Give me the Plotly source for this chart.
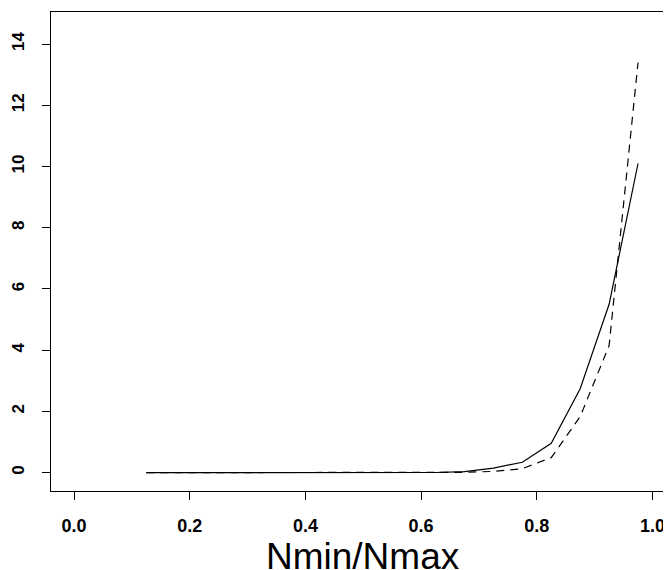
import plotly.graph_objects as go

# Data
ratio = [0.125, 0.175, 0.225, 0.275, 0.325, 0.375, 0.425, 0.475, 0.525,
         0.575, 0.625, 0.675, 0.725, 0.775, 0.825, 0.875, 0.925, 0.975]
solid_vals = [0, 0, 0, 0, 0, 0, 0, 0, 0,
              0, 0.005, 0.03, 0.15, 0.34, 0.96, 2.74, 5.5, 10.1]
dashed_vals = [0, 0, 0, 0, 0, 0, 0, 0, 0,
               0, 0, 0.01, 0.04, 0.13, 0.49, 1.83, 4.15, 13.4]
x_ticks = [0.0, 0.2, 0.4, 0.6, 0.8, 1.0]
x_ticklabels = ["0.0", "0.2", "0.4", "0.6", "0.8", "1.0"]
y_ticks = [0, 2, 4, 6, 8, 10, 12, 14]
y_ticklabels = ["0", "2", "4", "6", "8", "10", "12", "14"]
x_title = "Nmin/Nmax"

fig = go.Figure()
fig.add_trace(go.Scatter(x=ratio, y=solid_vals, mode="lines",
                         line=dict(color="black", width=1.2), showlegend=False))
fig.add_trace(go.Scatter(x=ratio, y=dashed_vals, mode="lines",
                         line=dict(color="black", width=1.2, dash="8px,6px"),
                         showlegend=False))

fig.update_xaxes(range=[-0.0398, 1.032], tickvals=x_ticks, ticktext=x_ticklabels,
                 showline=True, linecolor="black", linewidth=1, mirror=True,
                 ticks="outside", ticklen=8, tickcolor="black", tickwidth=1,
                 showgrid=False, zeroline=False, automargin=False,
                 tickfont=dict(family="Liberation Sans, Arial, sans-serif", size=18,
                               color="black", weight="bold"),
                 ticklabelstandoff=10)
fig.update_yaxes(range=[-0.6, 15.05], tickvals=y_ticks, ticktext=y_ticklabels,
                 showline=True, linecolor="black", linewidth=1,
                 ticks="outside", ticklen=8, tickcolor="black", tickwidth=1,
                 showgrid=False, zeroline=False, tickangle=-90, automargin=False,
                 tickfont=dict(family="Liberation Sans, Arial, sans-serif", size=17,
                               color="black", weight="bold"),
                 ticklabelstandoff=11)

fig.add_annotation(x=0.5, xref="x", y=-0.136, yref="paper", text=x_title,
                   showarrow=False, yanchor="middle", xanchor="center",
                   font=dict(family="Liberation Sans, Arial, sans-serif", size=37, color="black"))

# page body has an 8px margin, so the figure is sized/offset to compensate
fig.update_layout(width=663, height=562, margin=dict(l=43, r=0, t=4, b=79),
                  plot_bgcolor="white", paper_bgcolor="white")

fig.write_html("out.html")
